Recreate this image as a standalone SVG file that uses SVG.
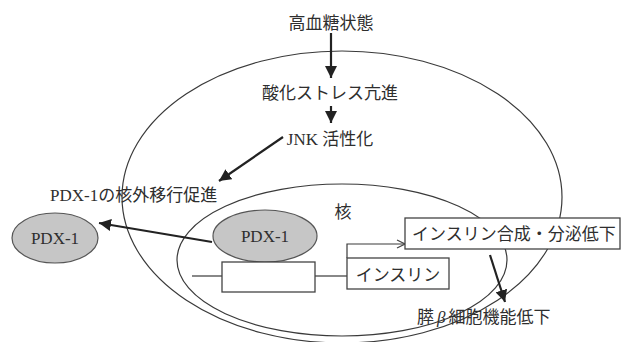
<svg xmlns="http://www.w3.org/2000/svg" width="621" height="342" viewBox="0 0 621 342">
  <style>
    .t { font-family: "Liberation Serif", "Noto Sans CJK JP", serif; font-size: 17px; fill: #2e2e2e; }
    .c { text-anchor: middle; }
    .ln { stroke: #3a3a3a; stroke-width: 1.2; fill: none; }
    .arr { stroke: #222; stroke-width: 2.2; fill: none; }
    .box { fill: #fff; stroke: #444; stroke-width: 1.3; }
    .pdx { fill: #c6c6c6; stroke: #555; stroke-width: 1.2; }
  </style>
  <defs>
    <marker id="ah" markerWidth="12" markerHeight="12" refX="10" refY="5" orient="auto" markerUnits="userSpaceOnUse" viewBox="0 0 10 10">
      <path d="M0,0 L10,5 L0,10 Z" fill="#222"/>
    </marker>
    <marker id="oh" markerWidth="10" markerHeight="10" refX="9" refY="5" orient="auto" markerUnits="userSpaceOnUse" viewBox="0 0 10 10">
      <path d="M1,1 L9,5 L1,9" fill="none" stroke="#444" stroke-width="1.2"/>
    </marker>
  </defs>

  <g id="cell">
    <ellipse cx="342" cy="197" rx="220" ry="146" class="ln"/>
  </g>
  <g id="nucleus">
    <ellipse cx="342" cy="260" rx="165" ry="76" class="ln"/>
    <text class="t c" x="343" y="218">核</text>
  </g>

  <g id="connectors">
    <line x1="331" y1="33" x2="331" y2="78" class="arr" marker-end="url(#ah)"/>
    <line x1="331" y1="106" x2="331" y2="123" class="arr" marker-end="url(#ah)"/>
    <line x1="283" y1="137" x2="219" y2="181" class="arr" marker-end="url(#ah)"/>
    <line x1="212" y1="242" x2="99" y2="223" class="arr" marker-end="url(#ah)"/>
    <line x1="192" y1="276" x2="222" y2="276" class="ln"/>
    <line x1="315" y1="276" x2="347" y2="276" class="ln"/>
    <polyline points="347,258 347,244 405,244" class="ln" marker-end="url(#oh)"/>
    <line x1="490" y1="255" x2="505" y2="302" class="arr" marker-end="url(#ah)"/>
  </g>

  <g id="hyperglycemia">
    <text class="t c" x="331" y="29">高血糖状態</text>
  </g>
  <g id="oxidative-stress">
    <text class="t c" x="330" y="99">酸化ストレス亢進</text>
  </g>
  <g id="jnk">
    <text class="t c" x="330" y="145">JNK 活性化</text>
  </g>
  <g id="pdx-export-label">
    <text class="t" x="50" y="201">PDX-1の核外移行促進</text>
  </g>
  <g id="pdx-out">
    <ellipse cx="55" cy="238" rx="43" ry="25" class="pdx"/>
    <text class="t c" x="55" y="244">PDX-1</text>
  </g>
  <g id="pdx-in">
    <ellipse cx="265" cy="236" rx="52" ry="26" class="pdx"/>
    <text class="t c" x="265" y="242">PDX-1</text>
  </g>
  <g id="promoter">
    <rect x="222" y="262" width="93" height="30" class="box"/>
  </g>
  <g id="insulin-gene">
    <rect x="347" y="258" width="102" height="31" class="box"/>
    <text class="t c" x="398" y="281">インスリン</text>
  </g>
  <g id="insulin-decrease">
    <rect x="405" y="218" width="215" height="31" class="box"/>
    <text class="t" x="412" y="240">インスリン合成・分泌低下</text>
  </g>
  <g id="beta-cell">
    <text class="t" x="417" y="323">膵<tspan dx="3" font-style="italic">β</tspan><tspan dx="3">細胞機能低下</tspan></text>
  </g>
</svg>
